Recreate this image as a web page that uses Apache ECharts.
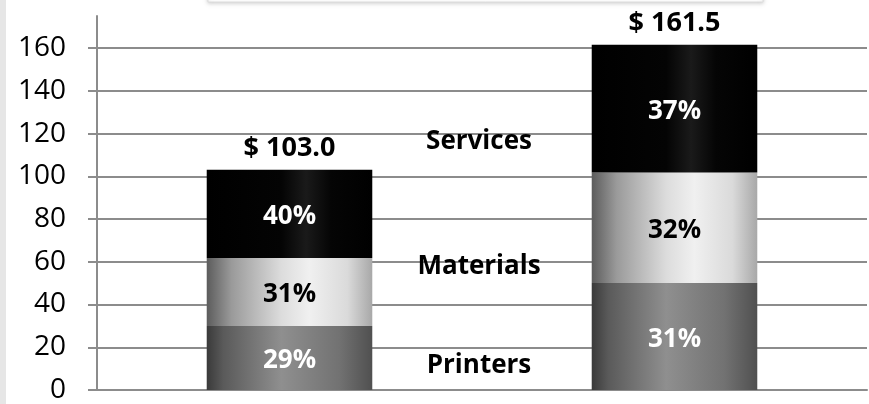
<!DOCTYPE html>
<html>
<head>
<meta charset="utf-8">
<script src="https://cdn.jsdelivr.net/npm/echarts@6/dist/echarts.min.js"></script>
<style>
  html, body { margin: 0; padding: 0; background: #ffffff; }
  #chart { width: 869px; height: 404px; }
</style>
</head>
<body>
<div id="chart"></div>
<script>
// ---- data ----
var categories = ['Year 1', 'Year 2'];
var seriesNames = ['Printers', 'Materials', 'Services'];
var printers = [29.9, 50.1];
var materials = [31.9, 51.7];
var services = [41.2, 59.7];
var yTickValues = [0, 20, 40, 60, 80, 100, 120, 140, 160];

var totals = categories.map(function (c, i) { return printers[i] + materials[i] + services[i]; });

var FONT = '"Open Sans", sans-serif';

function grad(stops) {
  return new echarts.graphic.LinearGradient(0, 0, 1, 0, stops.map(function (s) { return { offset: s[0], color: s[1] }; }));
}
var colPrinters = grad([[0, '#3a3a3a'], [0.1, '#5a5a5a'], [0.45, '#8f8f8f'], [0.8, '#727272'], [1, '#505050']]);
var colMaterials = grad([[0, '#5c5c5c'], [0.15, '#9a9a9a'], [0.45, '#dcdcdc'], [0.62, '#f0f0f0'], [0.85, '#dadada'], [1, '#a8a8a8']]);
var colServices = grad([[0, '#000000'], [0.45, '#040404'], [0.6, '#1a1a1a'], [0.75, '#050505'], [1, '#000000']]);

function pctLabel(arr, color) {
  return {
    show: true,
    position: 'inside',
    offset: [0, 3],
    color: color,
    fontFamily: FONT,
    fontWeight: 'bold',
    fontSize: 26,
    formatter: function (p) {
      return Math.round(arr[p.dataIndex] / totals[p.dataIndex] * 100) + '%';
    }
  };
}

var chart = echarts.init(document.getElementById('chart'), null, { renderer: 'canvas' });
chart.setOption({
  animation: false,
  backgroundColor: '#ffffff',
  grid: { left: 97, right: 2, top: 16, bottom: 12, containLabel: false },
  xAxis: {
    type: 'category',
    data: categories,
    axisLine: { show: true, lineStyle: { color: '#8c8c8c', width: 2 } },
    axisTick: { show: false },
    axisLabel: { show: false },
    splitLine: { show: false }
  },
  yAxis: {
    type: 'value',
    min: 0,
    max: 175,
    interval: 20,
    axisLine: { show: true, lineStyle: { color: '#8c8c8c', width: 2 } },
    axisTick: { show: true, length: 9, customValues: yTickValues, lineStyle: { color: '#8c8c8c', width: 2 } },
    axisLabel: {
      show: true,
      customValues: yTickValues,
      margin: 31,
      color: '#000000',
      fontFamily: FONT,
      fontSize: 28
    },
    splitLine: { show: true, showMinLine: false, lineStyle: { color: '#8c8c8c', width: 2 } }
  },
  series: [
    {
      name: seriesNames[0], type: 'bar', stack: 'total', data: printers, barWidth: '43%',
      itemStyle: { color: colPrinters },
      label: pctLabel(printers, '#ffffff')
    },
    {
      name: seriesNames[1], type: 'bar', stack: 'total', data: materials, barWidth: '43%',
      itemStyle: { color: colMaterials },
      label: pctLabel(materials, '#000000')
    },
    {
      name: seriesNames[2], type: 'bar', stack: 'total', data: services, barWidth: '43%',
      itemStyle: { color: colServices },
      label: pctLabel(services, '#ffffff')
    },
    {
      name: 'Total', type: 'line', data: totals, symbol: 'circle', symbolSize: 1, showSymbol: true, silent: true,
      clip: false,
      lineStyle: { opacity: 0 },
      itemStyle: { color: 'rgba(0,0,0,0)' },
      label: {
        show: true, position: 'top', distance: 8, opacity: 1,
        color: '#000000', fontFamily: FONT, fontWeight: 'bold', fontSize: 27,
        formatter: function (p) { return '$ ' + totals[p.dataIndex].toFixed(1); }
      }
    }
  ],
  graphic: [
    { type: 'rect', left: 0, top: 0, shape: { width: 6, height: 404 }, style: { fill: '#e6e6e6' }, z: 100 },
    {
      type: 'rect', shape: { x: 208, y: -30, width: 555, height: 32 },
      style: { fill: '#ffffff', stroke: '#dcdcdc', lineWidth: 1, shadowBlur: 4, shadowColor: 'rgba(0,0,0,0.18)', shadowOffsetY: 1 },
      z: 100
    },
    { type: 'text', x: 479, y: 142, style: { text: seriesNames[2], fill: '#000', font: 'bold 26px ' + FONT, textAlign: 'center', textVerticalAlign: 'middle' }, z: 100 },
    { type: 'text', x: 479, y: 267, style: { text: seriesNames[1], fill: '#000', font: 'bold 26px ' + FONT, textAlign: 'center', textVerticalAlign: 'middle' }, z: 100 },
    { type: 'text', x: 479, y: 366, style: { text: seriesNames[0], fill: '#000', font: 'bold 26px ' + FONT, textAlign: 'center', textVerticalAlign: 'middle' }, z: 100 }
  ]
});
</script>
</body>
</html>
